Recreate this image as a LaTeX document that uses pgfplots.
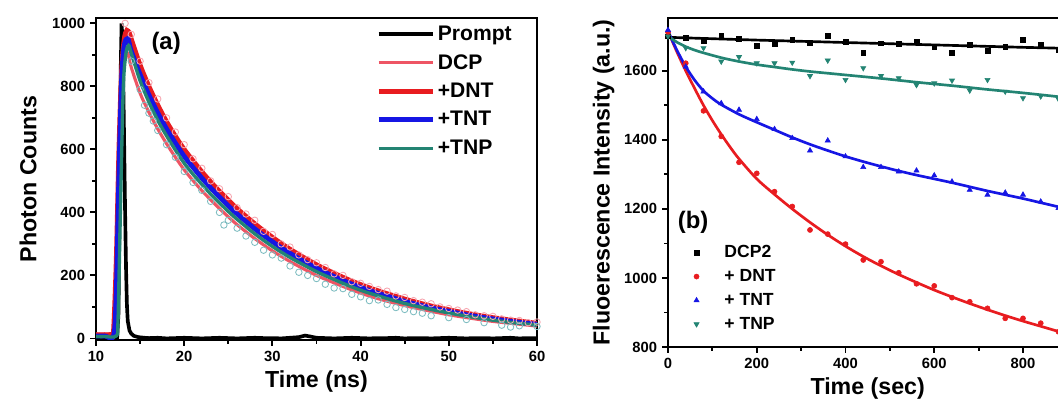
\documentclass[border=0pt]{standalone}
\usepackage{fontspec}
\setmainfont{Liberation Sans}
\usepackage{pgfplots}
\pgfplotsset{compat=1.18}

\definecolor{dnt}{RGB}{232,28,32}
\definecolor{dcp}{RGB}{238,85,100}
\definecolor{tnt}{RGB}{22,22,228}
\definecolor{tnp}{RGB}{35,132,115}
\definecolor{pinkc}{RGB}{246,165,175}
\definecolor{cyanc}{RGB}{125,188,192}

\pgfplotsset{
  panel/.style={
    scale only axis,
    axis line style={line width=1.7pt},
    tick style={line width=1.3pt, black},
    tick align=outside,
    xtick pos=left, ytick pos=left,
    major tick length=1.5mm,
    minor tick length=0.9mm,
    minor x tick num=1, minor y tick num=1,
    /pgf/number format/assume math mode=true,
    /pgf/number format/1000 sep={},
    ticklabel style={font=\fontsize{10.5}{12}\selectfont\bfseries},
    label style={font=\fontsize{16.5}{19}\selectfont\bfseries},
  }
}

\begin{document}
\begin{tikzpicture}
% ---------------- (a) decay curves ----------------
\begin{axis}[panel,
  at={(24mm,15mm)}, anchor=south west,
  width=110.25mm, height=80.5mm,
  xmin=10, xmax=60, ymin=-5, ymax=1017,
  xtick={10,20,...,60}, ytick={0,200,...,1000},
  xlabel={Time (ns)}, ylabel={Photon Counts},
  ylabel style={yshift=1.5mm},
  legend cell align=left,
  legend image code/.code={\draw[#1] (0mm,0mm) -- (13.5mm,0mm);},
  legend style={draw=none, fill=none, at={(axis description cs:0.635,0.985)}, anchor=north west,
    font=\fontsize{15}{17}\selectfont\bfseries, row sep=1.55mm, inner sep=0pt},
]
% measured points (no legend)
\addplot[only marks, mark=o, mark size=2.3pt, pinkc, mark options={line width=0.6pt}, forget plot] coordinates {
(13.3,1000) (14,965) (15,880) (16,812) (17,760) (18,700) (19,655) (20,615) (21,570) (22,540)
(23,500) (24,475) (25,450) (26,415) (27,395) (28,375) (29,340) (30,330) (31,300) (32,290)
(33,265) (34,250) (35,240) (36,225) (37,205) (38,200) (39,180) (40,175) (41,165) (42,155)
(43,150) (44,135) (45,130) (46,120) (47,115) (48,110) (49,100) (50,95) (51,90) (52,85)
(53,75) (54,72) (55,70) (56,62) (57,58) (58,57) (59,50) (60,52)
};
\addplot[only marks, mark=o, mark size=2.3pt, cyanc, mark options={line width=0.6pt}, forget plot] coordinates {
(14,880) (15,790) (15.5,740) (16,715) (16.5,690) (17,660) (18,615) (19,575) (20,530) (21,495)
(22,470) (23,435) (24,400) (24.5,360) (25,375) (26,350) (27,325) (28,305) (29,280) (30,265)
(31,255) (32,230) (33,210) (34,200) (35,190) (36,172) (37,160) (38,158) (39,140) (40,132)
(41,120) (42,122) (43,108) (44,98) (45,92) (46,85) (47,80) (48,72) (50,66) (52,60)
(54,50) (56,42) (57,36) (58,40) (60,38)
};
% Prompt
\addplot[black, line width=2.6pt] coordinates {
(10,3) (11,3) (12,3) (12.4,4) (12.55,80) (12.7,500) (12.8,850) (12.9,1000) (13.0,950) (13.1,800)
(13.2,600) (13.3,400) (13.4,230) (13.5,110) (13.6,55) (13.8,25) (14.0,15) (14.3,8) (14.8,4) (15.5,2)
(16,1) (17,2) (18,0) (19,1) (20,2) (21,1) (22,0) (23,1) (24,2) (25,1) (26,0) (27,1) (28,2) (29,1)
(30,1) (31,0) (32,2) (33,4) (33.7,9) (34.3,6) (35,2) (36,1) (37,0) (38,1) (39,2) (40,1) (41,0)
(42,1) (43,1) (44,2) (45,0) (46,1) (47,1) (48,0) (49,1) (50,2) (51,1) (52,0) (53,1) (54,1) (55,0)
(56,1) (57,2) (58,0) (59,1) (60,1)
};
\addlegendentry{Prompt}
% DCP
\addplot[dcp, line width=2.2pt, smooth] coordinates {
(10,14) (11.8,15) (12.0,30) (12.3,230) (12.6,560) (12.9,800) (13.2,890) (13.6,905) (14,860) (15,778)
(16,718) (17,665) (18,618) (19,575) (20,535) (21,501) (22,469) (23,440) (24,412) (25,386) (26,361)
(28,317) (30,278) (32,244) (35,200) (38,165) (40,144) (42,126) (45,104) (48,86) (50,75) (52,66)
(55,54) (58,45) (60,39)
};
\addlegendentry{DCP}
% +DNT
\addplot[dnt, line width=3.4pt, smooth] coordinates {
(10,12) (11,12) (11.8,13) (12.0,30) (12.3,250) (12.6,600) (12.9,850) (13.2,950) (13.5,978) (13.8,968)
(14,950) (15,868) (16,800) (17,741) (18,688) (19,642) (20,600) (21,564) (22,529) (23,497) (24,467)
(25,439) (26,412) (28,364) (30,321) (32,283) (35,234) (38,194) (40,171) (42,151) (45,125) (48,103)
(50,91) (52,80) (55,66) (58,55) (60,48)
};
\addlegendentry{+DNT}
% +TNT
\addplot[tnt, line width=3.4pt, smooth] coordinates {
(10,8) (11,8) (12.0,10) (12.3,150) (12.6,520) (12.9,820) (13.2,930) (13.6,952) (14,912) (15,838)
(16,773) (17,716) (18,665) (19,620) (20,578) (21,543) (22,509) (23,478) (24,449) (25,421) (26,395)
(28,348) (30,307) (32,270) (35,223) (38,184) (40,162) (42,143) (45,118) (48,97) (50,86) (52,75)
(55,62) (58,51) (60,45)
};
\addlegendentry{+TNT}
% +TNP
\addplot[tnp, line width=2.4pt, smooth] coordinates {
(10,6) (11,6) (12.3,8) (12.5,60) (12.8,450) (13.1,800) (13.4,905) (13.7,930) (14.0,905) (15,818)
(16,750) (17,692) (18,643) (19,598) (20,556) (21,521) (22,489) (23,458) (24,430) (25,403) (26,378)
(28,332) (30,292) (32,257) (35,212) (38,175) (40,153) (42,135) (45,111) (48,92) (50,81) (52,71)
(55,58) (58,48) (60,42)
};
\addlegendentry{+TNP}
\node[font=\fontsize{17}{20}\selectfont\bfseries] at (axis description cs:0.159,0.922) {(a)};
\end{axis}

% ---------------- (b) intensity vs time ----------------
\begin{axis}[panel,
  at={(167mm,13.25mm)}, anchor=south west,
  width=99.84mm, height=82.25mm,
  xmin=0, xmax=900, ymin=800, ymax=1753,
  xtick={0,200,...,800}, ytick={800,1000,...,1600},
  xlabel={Time (sec)}, ylabel={Fluoerescence Intensity (a.u.)},
  legend cell align=left,
  legend image code/.code={\draw plot coordinates {(0.25cm,0cm)}; \path (0cm,0cm) (0.87cm,0cm);},
  legend style={draw=none, fill=none, at={(axis description cs:0.045,0.318)}, anchor=north west,
    font=\fontsize{12.5}{14}\selectfont\bfseries, row sep=1.0mm, inner sep=0pt},
]
\addplot[only marks, mark=square*, mark size=1.7pt, black] coordinates {
(0,1700) (40,1695) (80,1688) (120,1702) (160,1692) (200,1672) (240,1678) (280,1690) (320,1682)
(360,1701) (400,1685) (440,1653) (480,1680) (520,1678) (560,1685) (600,1668) (640,1653) (680,1676)
(720,1659) (760,1670) (800,1690) (840,1675) (880,1662)
};
\addlegendentry{DCP2}
\addplot[only marks, mark=*, mark size=1.8pt, dnt] coordinates {
(0,1712) (40,1622) (80,1484) (120,1410) (160,1335) (200,1303) (240,1250) (280,1207) (320,1139)
(360,1127) (400,1098) (440,1052) (480,1047) (520,1015) (560,983) (600,977) (640,943) (680,931)
(720,912) (760,883) (800,883) (840,869) (880,844)
};
\addlegendentry{+ DNT}
\addplot[only marks, mark=triangle*, mark size=2.1pt, tnt] coordinates {
(0,1718) (40,1612) (80,1540) (120,1506) (160,1487) (200,1460) (240,1431) (280,1405) (320,1369)
(360,1398) (400,1352) (440,1321) (480,1321) (520,1308) (560,1311) (600,1297) (640,1279) (680,1255)
(720,1241) (760,1247) (800,1241) (840,1221) (880,1202)
};
\addlegendentry{+ TNT}
\addplot[only marks, mark=triangle*, mark size=2.1pt, tnp, mark options={rotate=180}] coordinates {
(0,1700) (40,1666) (80,1666) (120,1627) (160,1640) (200,1622) (240,1622) (280,1624) (320,1585)
(360,1630) (400,1574) (440,1608) (480,1585) (520,1579) (560,1559) (600,1564) (640,1572) (680,1543)
(720,1574) (760,1540) (800,1521) (840,1526) (880,1518)
};
\addlegendentry{+ TNP}
% fitted curves
\addplot[black, line width=1.9pt, forget plot] coordinates {
(0,1697) (200,1689) (400,1682) (600,1675) (800,1668) (900,1665)
};
\addplot[dnt, line width=1.9pt, smooth, forget plot] coordinates {
(0,1715) (20,1655) (40,1600) (60,1549) (80,1500) (100,1456) (120,1416) (140,1379) (160,1345)
(200,1287) (240,1242) (280,1200) (320,1161) (360,1125) (400,1092) (440,1062) (480,1035) (520,1010)
(560,987) (600,965) (640,945) (680,926) (720,908) (760,891) (800,875) (840,860) (880,845) (900,838)
};
\addplot[tnt, line width=1.9pt, smooth, forget plot] coordinates {
(0,1715) (20,1660) (40,1612) (60,1573) (80,1542) (100,1520) (120,1502) (160,1474) (200,1451)
(240,1429) (280,1407) (320,1387) (360,1369) (400,1352) (440,1337) (480,1323) (520,1310) (560,1298)
(600,1287) (640,1276) (680,1264) (720,1252) (760,1241) (800,1230) (840,1218) (880,1206) (900,1200)
};
\addplot[tnp, line width=1.9pt, smooth, forget plot] coordinates {
(0,1700) (20,1683) (40,1670) (60,1660) (80,1652) (120,1638) (160,1627) (200,1618) (240,1611)
(280,1604) (320,1598) (360,1593) (400,1588) (480,1578) (560,1567) (640,1557) (720,1546) (800,1536)
(880,1525) (900,1522)
};
\node[font=\fontsize{17}{20}\selectfont\bfseries] at (axis description cs:0.063,0.38) {(b)};
\end{axis}
\pgfresetboundingbox
\path[use as bounding box] (0mm,0mm) rectangle (264.5mm,100mm);
\end{tikzpicture}
\end{document}
